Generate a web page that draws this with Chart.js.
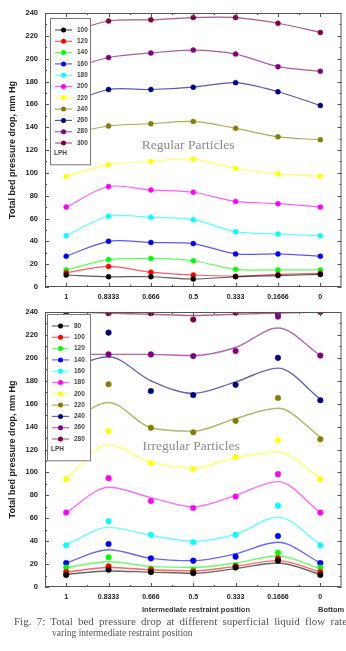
<!DOCTYPE html>
<html>
<head>
<meta charset="utf-8">
<script src="https://cdn.jsdelivr.net/npm/chart.js@4.4.1/dist/chart.umd.min.js"></script>
<style>
  html, body { margin: 0; padding: 0; background: #fff; }
  body { width: 346px; height: 651px; position: relative; overflow: hidden; font-family: Arial, "Liberation Sans", sans-serif; }
  canvas { position: absolute; left: 0; }
  #topChart { top: 0; }
  #bottomChart { top: 300px; }
  .axis-note { position: absolute; font: bold 7.5px Arial, "Liberation Sans", sans-serif; color: #333; white-space: nowrap; }
  #xTitle { top: 605px; left: 0; width: 392px; text-align: center; }
  #bottomWord { top: 605px; left: 318px; }
  .caption { position: absolute; font-family: "Liberation Serif", "Times New Roman", serif; color: #555; white-space: nowrap; }
  #cap1 { top: 615px; left: 14px; font-size: 11px; word-spacing: 2.5px; }
  #cap2 { top: 628px; left: 52px; font-size: 9.5px; }
</style>
</head>
<body>
<canvas id="topChart" width="346" height="307"></canvas>
<canvas id="bottomChart" width="346" height="307"></canvas>
<div class="axis-note" id="xTitle">Intermediate restraint position</div>
<div class="axis-note" id="bottomWord">Bottom</div>
<div class="caption" id="cap1">Fig. 7: Total bed pressure drop at different superficial liquid flow rates with</div>
<div class="caption" id="cap2">varing intermediate restraint position</div>

<script>
// restraint positions (x categories)
const positions = ['1', '0.8333', '0.666', '0.5', '0.333', '0.1666', '0'];

// Origin default colour order
const seriesColors = ['#000000', '#ff0000', '#00ff00', '#0000ff', '#00ffff', '#ff00ff',
                      '#ffff00', '#808000', '#000080', '#800080', '#800040'];

// --- regular particles (LPH) ---
const regularFlows = ['100', '120', '140', '160', '180', '200', '220', '240', '260', '280', '300'];
const reg100 = [10.5, 9, 9, 7, 9, 10, 11];
const reg120 = [12.5, 18, 13, 10.5, 9.5, 11, 12];
const reg140 = [15, 24, 25, 23, 15.5, 15, 15];
const reg160 = [27, 40, 39, 38, 29, 29, 27];
const reg180 = [45, 62, 61, 59, 48.5, 46.5, 45];
const reg200 = [70, 88, 85, 83, 75, 73, 70];
const reg220 = [97, 107, 110, 112, 104, 99, 97];
const reg240 = [133, 141, 143, 145, 139, 131.5, 129];
const reg260 = [160, 173, 173, 175, 179, 171, 159];
const reg280 = [190, 201, 205, 207.5, 204, 193, 189];
const reg300 = [222, 233, 234, 236, 236, 231, 223];

// --- irregular particles (LPH): measured points ---
const irregularFlows = ['80', '100', '120', '140', '160', '180', '200', '220', '240', '260', '280'];
const irr80 = [10.5, 15, 13, 12, 17, 23, 10.5];
const irr100 = [13, 18, 15, 13.5, 18, 25, 13];
const irr120 = [17, 26, 16, 15, 19, 30, 17];
const irr140 = [21, 37.5, 25, 23, 26.5, 44.5, 21];
const irr160 = [36.5, 57.5, 45.5, 39, 45.5, 71, 36.5];
const irr180 = [65, 95, 75, 69, 79, 98.5, 65];
const irr200 = [94, 136, 108, 103, 113.5, 128, 94];
const irr220 = [129, 177, 139, 135, 145, 165, 129];
const irr240 = [163, 222, 171, 167.5, 176.5, 200, 163];
const irr260 = [202, 203, 203, 201.5, 206, 236, 202];
const irr280 = [240, 239, 239, 233.5, 239.5, 239, 240];

// --- irregular particles: fitted curves read at each position ---
const fit80 = [11, 14, 13, 12, 16, 21, 11];
const fit100 = [13, 17, 15, 14, 18, 23, 13];
const fit120 = [17, 22, 18, 17, 21, 27, 16];
const fit140 = [21, 32.5, 25, 23, 29, 39, 21];
const fit160 = [37, 52, 45, 40, 46, 61, 37];
const fit180 = [65, 87, 78, 70, 80, 92, 65];
const fit200 = [95, 124, 109, 104, 113, 118, 95];
const fit220 = [140, 161, 139, 136, 147, 156, 131];
const fit240 = [190, 201, 180, 169, 179, 191, 164];
const fit260 = [203, 203, 203, 202, 209, 226, 202];
const fit280 = [240, 239, 238, 237, 238, 239, 240];

const regularSeries = [reg100, reg120, reg140, reg160, reg180, reg200, reg220, reg240, reg260, reg280, reg300];
const irregularSeries = [irr80, irr100, irr120, irr140, irr160, irr180, irr200, irr220, irr240, irr260, irr280];
const irregularFits = [fit80, fit100, fit120, fit140, fit160, fit180, fit200, fit220, fit240, fit260, fit280];

function fade(hex, a) {
    const n = parseInt(hex.slice(1), 16);
    return `rgba(${(n >> 16) & 255}, ${(n >> 8) & 255}, ${n & 255}, ${a})`;
}

// frame + inward tick marks on all four sides
const frameTicks = {
    id: 'frameTicks',
    afterDraw(chart) {
        const { ctx, chartArea: a, scales: { x, y } } = chart;
        ctx.save();
        ctx.strokeStyle = '#555';
        ctx.lineWidth = 1;
        ctx.strokeRect(a.left + 0.5, a.top + 0.5, a.right - a.left - 1, a.bottom - a.top - 1);
        ctx.beginPath();
        for (let v = 0; v <= 240; v += 10) {
            const py = Math.round(y.getPixelForValue(v)) + 0.5;
            const len = v % 20 === 0 ? 4 : 2;
            ctx.moveTo(a.left, py); ctx.lineTo(a.left + len, py);
            ctx.moveTo(a.right, py); ctx.lineTo(a.right - len, py);
        }
        for (let i = 0; i < positions.length; i++) {
            const px = Math.round(x.getPixelForValue(i)) + 0.5;
            ctx.moveTo(px, a.bottom); ctx.lineTo(px, a.bottom - 4);
            ctx.moveTo(px, a.top); ctx.lineTo(px, a.top + 4);
            if (i < positions.length - 1) {
                const mx = Math.round((x.getPixelForValue(i) + x.getPixelForValue(i + 1)) / 2) + 0.5;
                ctx.moveTo(mx, a.bottom); ctx.lineTo(mx, a.bottom - 2);
                ctx.moveTo(mx, a.top); ctx.lineTo(mx, a.top + 2);
            }
        }
        ctx.stroke();
        ctx.restore();
    }
};

// panel name ("Regular Particles") + boxed legend over the plot
const panelDecor = {
    id: 'panelDecor',
    afterDraw(chart, args, opts) {
        const { ctx, chartArea: a, scales: { x, y } } = chart;
        ctx.save();
        ctx.font = '13.5px "Liberation Serif", "Times New Roman", serif';
        ctx.fillStyle = '#8a8a8a';
        ctx.textAlign = 'center';
        ctx.textBaseline = 'middle';
        ctx.fillText(opts.name, x.getPixelForValue(opts.nameX), y.getPixelForValue(opts.nameY));

        const items = chart.data.datasets.filter(d => d.inLegend);
        const rowH = 11.3;
        const bx = a.left + opts.dx, by = a.top + opts.dy;
        const h = items.length * rowH + 22;
        ctx.fillStyle = '#fff';
        ctx.fillRect(bx, by, opts.w, h);
        ctx.strokeStyle = '#777';
        ctx.lineWidth = 1;
        ctx.strokeRect(bx + 0.5, by + 0.5, opts.w, h);
        ctx.font = 'bold 6.5px Arial, "Liberation Sans", sans-serif';
        ctx.textAlign = 'left';
        items.forEach((d, i) => {
            const cy = by + 12 + i * rowH;
            ctx.strokeStyle = d.legendLine;
            ctx.lineWidth = 1.2;
            ctx.beginPath();
            ctx.moveTo(bx + 5, cy); ctx.lineTo(bx + 22, cy);
            ctx.stroke();
            ctx.fillStyle = d.pointBackgroundColor;
            ctx.beginPath();
            ctx.arc(bx + 13.5, cy, 2.5, 0, Math.PI * 2);
            ctx.fill();
            ctx.fillStyle = '#444';
            ctx.fillText(d.label, bx + 27, cy);
        });
        ctx.fillStyle = '#444';
        ctx.fillText('LPH', bx + 4, by + 12 + items.length * rowH - 1);
        ctx.restore();
    }
};

function baseOptions(padTop, decor) {
    return {
        responsive: false,
        animation: false,
        events: [],
        layout: { padding: { top: padTop, right: 2, left: 0, bottom: 0 } },
        plugins: {
            legend: { display: false },
            tooltip: { enabled: false },
            panelDecor: decor
        },
        scales: {
            x: {
                type: 'category',
                labels: positions,
                offset: true,
                grid: { display: false, drawTicks: false },
                border: { display: false },
                ticks: {
                    font: { family: 'Arial', weight: 'bold', size: 7 },
                    color: '#222',
                    padding: 6,
                    maxRotation: 0,
                    autoSkip: false
                },
                afterFit: s => { s.height = 20; }
            },
            y: {
                min: 0,
                max: 240,
                grid: { display: false, drawTicks: false },
                border: { display: false },
                ticks: {
                    stepSize: 20,
                    font: { family: 'Arial', weight: 'bold', size: 7.5 },
                    color: '#222',
                    padding: 7
                },
                title: {
                    display: true,
                    text: 'Total bed pressure drop, mm Hg',
                    font: { family: 'Arial', weight: 'bold', size: 9 },
                    color: '#222',
                    padding: { top: 7, bottom: 0 }
                },
                afterFit: s => { s.width = 45; }
            }
        }
    };
}

// --- top panel: regular particles, smooth lines through points ---
const topDatasets = regularSeries.map((vals, i) => ({
    label: regularFlows[i],
    data: vals,
    borderColor: fade(seriesColors[i], 0.65),
    legendLine: fade(seriesColors[i], 0.65),
    borderWidth: 1.2,
    tension: 0.3,
    pointRadius: 2.5,
    pointBackgroundColor: seriesColors[i],
    pointBorderColor: seriesColors[i],
    pointBorderWidth: 0.5,
    inLegend: true
}));

new Chart(document.getElementById('topChart'), {
    type: 'line',
    data: { labels: positions, datasets: topDatasets },
    options: baseOptions(13, { name: 'Regular Particles', nameX: 2.88, nameY: 124, dx: 5, dy: 5, w: 40 }),
    plugins: [frameTicks, panelDecor]
});

// --- bottom panel: irregular particles, points + fitted curves ---
const bottomDatasets = [];
irregularSeries.forEach((vals, i) => {
    bottomDatasets.push({
        label: irregularFlows[i],
        data: vals,
        showLine: false,
        pointRadius: 2.8,
        pointBackgroundColor: seriesColors[i],
        pointBorderColor: seriesColors[i],
        pointBorderWidth: 0.5,
        legendLine: fade(seriesColors[i], 0.6),
        inLegend: true
    });
});
irregularFits.forEach((vals, i) => {
    bottomDatasets.push({
        label: irregularFlows[i] + ' fit',
        data: vals,
        borderColor: fade(seriesColors[i], 0.6),
        borderWidth: 1.4,
        cubicInterpolationMode: 'monotone',
        pointRadius: 0
    });
});

new Chart(document.getElementById('bottomChart'), {
    type: 'line',
    data: { labels: positions, datasets: bottomDatasets },
    options: baseOptions(12, { name: 'Irregular Particles', nameX: 2.95, nameY: 123, dx: 2, dy: 2, w: 43 }),
    plugins: [frameTicks, panelDecor]
});
</script>
</body>
</html>
